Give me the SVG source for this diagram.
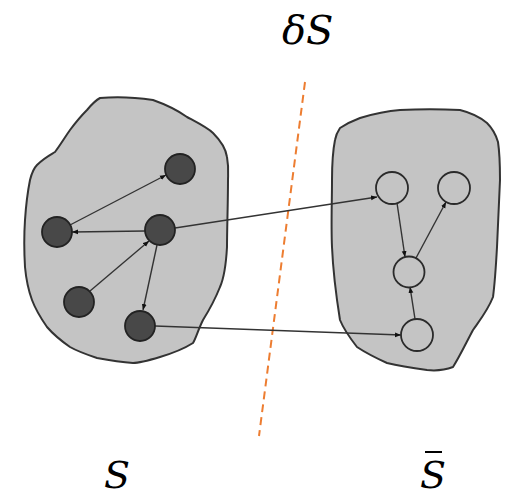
<svg xmlns="http://www.w3.org/2000/svg" width="507" height="499" viewBox="0 0 507 499">
<style>
.blob{fill:#c4c4c4;stroke:#333;stroke-width:2;stroke-linejoin:round}
.dark{fill:#484848;stroke:#222;stroke-width:1.8}
.light{fill:#c4c4c4;stroke:#2a2a2a;stroke-width:1.8}
.edge{stroke:#333;stroke-width:1.4;fill:none;marker-end:url(#ah)}
.cut{stroke:#ED7D31;stroke-width:2;stroke-dasharray:8 5;fill:none}
.lbl{font-family:"DejaVu Serif","Liberation Serif",serif;font-style:italic;font-size:40px;fill:#000}
.lbl2{font-family:"DejaVu Serif","Liberation Serif",serif;font-style:italic;font-size:38px;fill:#000}
</style>
<defs>
<marker id="ah" viewBox="0 0 10 10" refX="10" refY="5" markerWidth="6" markerHeight="6" markerUnits="userSpaceOnUse" orient="auto">
<path d="M0,1 L10,5 L0,9 z" fill="#111"/>
</marker>
</defs>
<g id="region-S">
<path class="blob" d="M100,98 C120,96 140,98 153,100 C170,106 180,112 187,117 C200,124 208,128 213,133 C222,142 226,150 227,157 C229,168 228,175 228,180 C228,205 227,228 227,247 C226,265 224,278 220,287 C214,302 208,312 203,320 C198,330 196,338 193,343 C182,350 170,354 160,357 C150,360 140,363 133,363 C120,362 108,360 97,358 C85,354 77,351 70,347 C60,340 53,334 47,327 C40,317 35,308 32,300 C28,289 26,278 25,267 C24,250 24,235 25,220 C26,205 28,190 30,180 C32,172 34,168 37,165 C44,158 50,155 55,152 C61,144 65,137 70,130 C76,122 82,115 87,110 C92,104 96,100 100,98 Z"/>
</g>
<g id="region-Sbar">
<path class="blob" d="M340,128 C346,124 352,121 360,118 C373,114 386,111 400,110 C420,109 440,109 460,110 C472,113 480,117 487,123 C493,129 496,135 498,142 C500,155 500,168 500,180 C499,202 498,225 497,247 C496,265 495,282 493,297 C488,310 480,320 473,330 C466,343 460,356 453,367 C445,370 436,371 427,370 C413,368 400,366 387,363 C376,358 366,353 357,347 C350,338 344,330 340,320 C336,295 333,270 332,247 C331,225 332,202 332,180 C332,165 333,150 335,140 C336,134 338,131 340,128 Z"/>
</g>
<line id="cut" class="cut" x1="305" y1="82" x2="259" y2="436"/>
<g id="connectors">
<line class="edge" x1="70" y1="225" x2="166" y2="175"/>
<line class="edge" x1="145" y1="231" x2="72" y2="232"/>
<line class="edge" x1="90" y1="291" x2="149" y2="241"/>
<line class="edge" x1="157" y1="245" x2="143" y2="310"/>
<line class="edge" x1="175" y1="228" x2="377" y2="197"/>
<line class="edge" x1="155" y1="326" x2="401" y2="335"/>
<line class="edge" x1="397" y1="203" x2="405" y2="257"/>
<line class="edge" x1="416" y1="258" x2="446" y2="202"/>
<line class="edge" x1="415" y1="319" x2="410" y2="287"/>
</g>
<g id="n1"><circle class="dark" cx="180" cy="169" r="15"/></g>
<g id="n2"><circle class="dark" cx="57" cy="232" r="15"/></g>
<g id="n3"><circle class="dark" cx="160" cy="230" r="15"/></g>
<g id="n4"><circle class="dark" cx="79" cy="302" r="15"/></g>
<g id="n5"><circle class="dark" cx="140" cy="326" r="15"/></g>
<g id="m1"><circle class="light" cx="392" cy="188" r="16"/></g>
<g id="m2"><circle class="light" cx="454" cy="188" r="16"/></g>
<g id="m3"><circle class="light" cx="409" cy="272" r="15.5"/></g>
<g id="m4"><circle class="light" cx="417" cy="335" r="16"/></g>
<g id="labels">
<text class="lbl" x="282" y="44">δS</text>
<text class="lbl2" x="104" y="488">S</text>
<text class="lbl2" x="420" y="488">S</text>
<line x1="425" y1="452" x2="442" y2="452" stroke="#000" stroke-width="2"/>
</g>
</svg>
